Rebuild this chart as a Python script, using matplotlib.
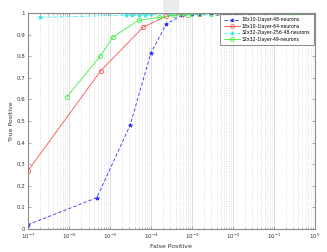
import matplotlib
matplotlib.use("Agg")
import matplotlib.pyplot as plt
from matplotlib.patches import Rectangle
from matplotlib.ticker import FixedLocator, NullFormatter, LogFormatterSciNotation

# Data
blue_x = [1e-7, 4.8e-6, 3.1e-5, 1e-4, 2.4e-4, 5.8e-4, 1e-3, 1.6e-3, 3e-3, 6e-3, 1.2e-2, 2.5e-2]
blue_y = [0.02, 0.145, 0.48, 0.815, 0.95, 0.99, 0.995, 0.997, 0.998, 0.999, 0.999, 1.0]

red_x = [1e-7, 6e-6, 6.5e-5, 2.4e-4, 6e-4, 1.5e-3, 4e-3, 8e-3, 1.5e-2]
red_y = [0.27, 0.733, 0.935, 0.985, 0.995, 0.997, 0.998, 0.999, 1.0]

cyan_x = [2e-7, 2.5e-5, 3.5e-5, 5e-5, 7e-5, 1e-4, 3e-4, 6e-4, 1e-3, 2e-3, 4e-3, 8e-3]
cyan_y = [0.98, 0.99, 0.991, 0.992, 0.993, 0.994, 0.996, 0.997, 0.998, 0.999, 0.999, 1.0]

green_x = [9e-7, 5.8e-6, 1.2e-5, 5e-5, 1.6e-4, 3.6e-4, 8e-4, 1.5e-3, 3e-3, 6e-3,
           1.2e-2, 3e-2, 6e-2, 1.2e-1, 1.6e-1, 2.3e-1, 3.1e-1, 4.3e-1]
green_y = [0.613, 0.80, 0.89, 0.966, 0.98, 0.989, 0.993, 0.996, 0.997, 0.998,
           0.999, 1.0, 1.0, 1.0, 1.0, 1.0, 1.0, 1.0]

labels = ["18x10-1layer-48-neurons", "18x10-1layer-64-neurons",
          "32x32-2layer-256-48-neurons", "32x32-1layer-49-neurons"]
xticks = [1e-7, 1e-6, 1e-5, 1e-4, 1e-3, 1e-2, 1e-1, 1e0]
xtick_labels = ["$10^{-7}$", "$10^{-6}$", "$10^{-5}$", "$10^{-4}$",
                "$10^{-3}$", "$10^{-2}$", "$10^{-1}$", "$10^{0}$"]
yticks = [0, 0.1, 0.2, 0.3, 0.4, 0.5, 0.6, 0.7, 0.8, 0.9, 1]
ytick_labels = ["0", "0.1", "0.2", "0.3", "0.4", "0.5", "0.6", "0.7", "0.8", "0.9", "1"]

fig = plt.figure(figsize=(3.27, 2.52), dpi=100)
ax = fig.add_axes([0.0856, 0.0913, 0.877, 0.857])

fig.patches.append(Rectangle((163/327, 1-12/252), 16/327, 12/252,
                             transform=fig.transFigure, facecolor="#ebebeb",
                             edgecolor="none", zorder=0))

lw = 0.6
ax.plot(blue_x, blue_y, color="#3030ff", ls=(0, (4, 2.5)), lw=lw, marker="*",
        ms=3, mew=0.6, label=labels[0])
ax.plot(red_x, red_y, color="#ff5050", ls="-", lw=lw, marker="o", ms=3,
        mfc="none", mew=0.6, label=labels[1])
ax.plot(cyan_x, cyan_y, color="#30e8e8", ls=(0, (4, 1.5, 1, 1.5)), lw=lw, marker="*",
        ms=3, mew=0.6, label=labels[2])
ax.plot(green_x, green_y, color="#40ee40", ls="-", lw=lw, marker="o", ms=3,
        mfc="none", mew=0.6, label=labels[3])

ax.set_xscale("log")
ax.set_xlim(1e-7, 1)
ax.set_ylim(0, 1)
ax.set_yticks(yticks)
ax.set_yticklabels(ytick_labels)
ax.set_xticks(xticks)
ax.set_xticklabels(xtick_labels)
minor = [m * 10.0 ** e for e in range(-7, 0) for m in range(2, 10)]
ax.xaxis.set_minor_locator(FixedLocator(minor))
ax.xaxis.set_minor_formatter(NullFormatter())

ax.grid(True, which="major", axis="x", color="#d8d8d8", ls="-", lw=0.6)
ax.grid(True, which="minor", axis="x", color="#d0d0d0", ls=(0, (1, 1.5)), lw=0.5)
ax.set_axisbelow(True)

for s in ax.spines.values():
    s.set_color("#8a8a8a")
    s.set_linewidth(0.8)
ax.tick_params(which="both", direction="in", top=True, right=True,
               colors="#8a8a8a", labelcolor="#333333", labelsize=4, pad=2)
ax.tick_params(which="major", length=2.5, width=0.5)
ax.tick_params(which="minor", length=1.5, width=0.4)

ax.set_xlabel("False Positive", fontsize=4.5, color="#333333", labelpad=2)
ax.set_ylabel("True Positive", fontsize=4.5, color="#333333", labelpad=2)

leg = ax.legend(loc="upper right", fontsize=3.3, frameon=True, fancybox=False,
                borderpad=0.8, labelspacing=0.3, handlelength=3.5,
                handletextpad=0.45, borderaxespad=0.15, markerscale=0.9)
leg.get_frame().set_edgecolor("#555555")
leg.get_frame().set_linewidth(0.6)

fig.savefig("out.png", dpi=100)
